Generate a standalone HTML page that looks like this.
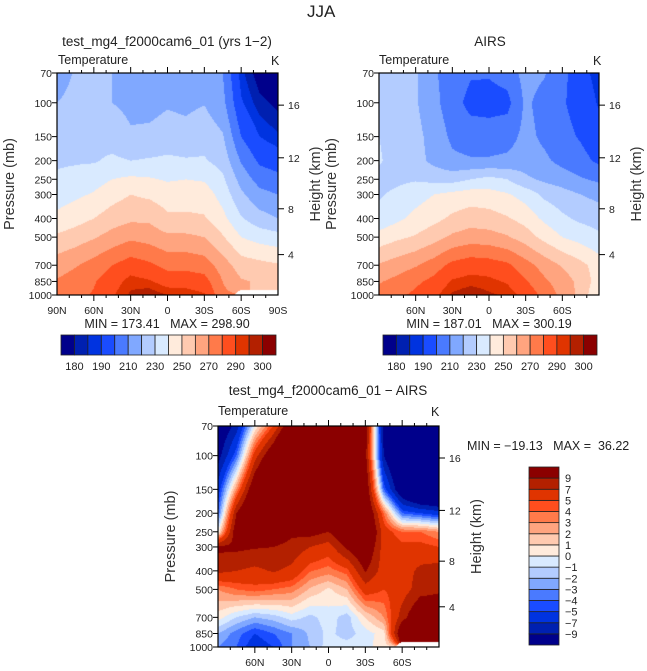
<!DOCTYPE html>
<html><head><meta charset="utf-8">
<style>
html,body{margin:0;padding:0;background:#fff;}
#root{position:relative;width:647px;height:671px;overflow:hidden;font-family:"Liberation Sans",sans-serif;color:#222;}
.t{position:absolute;white-space:nowrap;line-height:1;}
canvas{position:absolute;}
svg{position:absolute;left:0;top:0;}
</style></head>
<body>
<div id="root">
<div class="t" style="left:307px;top:3px;font-size:17px;">JJA</div>

<div class="t" style="left:167px;top:35px;font-size:13.5px;transform:translateX(-50%);">test_mg4_f2000cam6_01 (yrs 1−2)</div>
<div class="t" style="left:58px;top:54px;font-size:12.5px;">Temperature</div>
<div class="t" style="left:271px;top:55px;font-size:12.5px;">K</div>
<div class="t" style="left:167px;top:318px;font-size:12.5px;transform:translateX(-50%);">MIN = 173.41&nbsp;&nbsp;&nbsp;MAX = 298.90</div>

<div class="t" style="left:490px;top:35px;font-size:13.5px;transform:translateX(-50%);">AIRS</div>
<div class="t" style="left:379px;top:54px;font-size:12.5px;">Temperature</div>
<div class="t" style="left:593px;top:55px;font-size:12.5px;">K</div>
<div class="t" style="left:489px;top:318px;font-size:12.5px;transform:translateX(-50%);">MIN = 187.01&nbsp;&nbsp;&nbsp;MAX = 300.19</div>

<div class="t" style="left:328px;top:384px;font-size:13.5px;transform:translateX(-50%);">test_mg4_f2000cam6_01 − AIRS</div>
<div class="t" style="left:218px;top:405px;font-size:12.5px;">Temperature</div>
<div class="t" style="left:431px;top:406px;font-size:12.5px;">K</div>
<div class="t" style="left:467px;top:440px;font-size:12.5px;">MIN = −19.13&nbsp;&nbsp;&nbsp;MAX =&nbsp;&nbsp;36.22</div>

<canvas id="c0" width="221" height="222" style="left:57px;top:73px;"></canvas>
<canvas id="c1" width="220" height="222" style="left:379px;top:73px;"></canvas>
<canvas id="c2" width="221" height="221" style="left:218px;top:426px;"></canvas>
<svg id="ov" width="647" height="671"></svg>
</div>
<script>
// ---------- data ----------
const lats = [90,75,60,45,30,15,0,-15,-30,-45,-60,-75,-90];
const plevs = [1000,850,700,500,400,300,250,200,150,100,70];
// model temperature (K), rows follow plevs
const modelT = [
 [274,277,281,289,296,299,295,294,291,272,null,null,null],
 [271,275,279,286,293,291,286,286,284,270,261,259,256],
 [265,269,274,280,285,282,277,277,275,265,255,253,251],
 [252,255,259,264,268,266,262,262,260,251,240,236,234],
 [242,246,250,255,258,258,252,252,251,243,231,224,220],
 [236,238,241,246,250,248,245,245,245,236,222,213,210],
 [231,233,236,240,242,241,239,240,239,232,216,206,203],
 [229,229,229,232,230,231,232,231,231,226,209,198,195],
 [225,226,227,225,221,222,224,223,226,221,200,190,186],
 [220,223,224,220,218,217,219,218,219.5,213,191,182,178],
 [215,221,222,220,217,214,215,214,217,210,187,176,172]
];
// AIRS temperature (K)
const obsT = [
 [274,278,282,288,296,299,296,294,287,277,267,257,240],
 [269,273,278,283,291,293,292,289,281,272,265,257,245],
 [261,265,269,275,283,286,285,282,274,266,259,253,245],
 [244,248,251,256,262,265,264,261,255,247,240,236,232],
 [233,238,243,247,252,255,254,251,246,238,232,228,226],
 [229,232,236,240,243,245,244,241,236,228,224,220,217],
 [227,228,229,227,226,230,233,230,222,218,215,211,208],
 [231,226,224,217,212,211,211,212,215,212,207,203,198],
 [230,226,223,216,208,205,205,206,213,208,203,199,194],
 [226,224,221,213,204,197,196,197,212,206,201,196,189],
 [224,223,221,211,206,201,201,204,214,211,203,193,187]
];
// difference (K)
const diffT = [
 [-3,-4,-6,-5,-3,-2,-0.5,-0.5,-0.3,0.5,null,null,null],
 [-2,-3.5,-5,-4,-3,-1.8,-0.7,-1.5,-0.5,0.5,12,15,14],
 [0.5,-1,-2,-1.5,-0.5,-1.3,-0.5,-1.5,1,3,8,12,12],
 [3,4,4.5,4,3.5,1.8,0.8,2,6,5,6,8,8.5],
 [7.5,7,6.5,7.2,6.5,4.1,3.5,4.5,9.2,6,6,7.5,8],
 [9.5,9.5,9.2,9,8.3,7,6,9.5,12,6,5.5,5.5,5],
 [0,11,12,11,9.5,10,9,12,14,6,4,4,3],
 [-4,9,15,15,15,14,15,16,13,4,-4,-5,-6],
 [-6,3,12,18,20,20,20,20,12,-4,-12,-16,-17],
 [-10,-4,6,12,20,25,25,22,10,-9,-15,-18,-19],
 [-12,-8,0,5,12,20,25,20,11,-10,-15,-18,-19]
];
const tempLevels = [180,185,190,200,210,220,230,240,250,260,270,280,290,295,300];
const tempLabels = ["180","190","210","230","250","270","290","300"];
const diffLevels = [-9,-7,-5,-4,-3,-2,-1,0,1,2,3,4,5,7,9];
const diffLabels = ["9","7","5","4","3","2","1","0","−1","−2","−3","−4","−5","−7","−9"];
const palette = ["#00008b","#0020b0","#0033e0","#1a4cff","#4a7aff","#80a8ff","#b3ccff","#d9eaff","#ffebdc","#ffcab0","#ffa47f","#ff7a4a","#ff4e1e","#e03400","#b32000","#8b0000"];
const pTicks = [1000,850,700,500,400,300,250,200,150,100,70];
const zTicks = [4,8,12,16];
const latTicksFull = [90,60,30,0,-30,-60,-90];
const latTicksInner = [60,30,0,-30,-60];

// ---------- helpers ----------
const PTOP=70,PBOT=1000, LR=Math.log10(PBOT/PTOP);
function rgb(h){return [parseInt(h.slice(1,3),16),parseInt(h.slice(3,5),16),parseInt(h.slice(5,7),16)];}
const palRGB = palette.map(rgb);
function binOf(v,lv){let i=0;while(i<lv.length&&v>=lv[i])i++;return i;}
function sample(grid,lat,lp){
  let fx=(90-lat)/15; let i0=Math.min(Math.floor(fx),lats.length-2); let tx=fx-i0;
  const lps=plevs.map(p=>Math.log10(p));
  let j0=0; while(j0<plevs.length-2 && lp<lps[j0+1]) j0++;
  let ty=(lps[j0]-lp)/(lps[j0]-lps[j0+1]);
  ty=Math.max(0,Math.min(1,ty));
  const c=[[grid[j0][i0],(1-tx)*(1-ty)],[grid[j0][i0+1],tx*(1-ty)],[grid[j0+1][i0],(1-tx)*ty],[grid[j0+1][i0+1],tx*ty]];
  let s=0,w=0,nw=0;
  for(const [v,wt] of c){ if(v===null){nw+=wt;} else {s+=v*wt;w+=wt;} }
  if(nw>0.62||w===0) return null;
  return s/w;
}
function drawField(id,grid,lv){
  const cv=document.getElementById(id),ctx=cv.getContext('2d');
  const W=cv.width,H=cv.height,img=ctx.createImageData(W,H);
  for(let y=0;y<H;y++){
    const lp=Math.log10(PBOT)-(H-0.5-y)/H*LR;
    for(let x=0;x<W;x++){
      const lat=90-(x+0.5)/W*180;
      const v=sample(grid,lat,lp);
      const k=(y*W+x)*4;
      let c=[255,255,255];
      if(v!==null) c=palRGB[binOf(v,lv)];
      img.data[k]=c[0];img.data[k+1]=c[1];img.data[k+2]=c[2];img.data[k+3]=255;
    }
  }
  ctx.putImageData(img,0,0);
}
drawField('c0',modelT,tempLevels);
drawField('c1',obsT,tempLevels);
drawField('c2',diffT,diffLevels);

// ---------- axes ----------
const NS='http://www.w3.org/2000/svg', ov=document.getElementById('ov');
function el(tag,at,parent){const e=document.createElementNS(NS,tag);for(const k in at)e.setAttribute(k,at[k]);(parent||ov).appendChild(e);return e;}
function zToP(z){const m=z*1000; if(m<=11000) return 1013.25*Math.pow(1-2.25577e-5*m,5.2559); return 226.32*Math.exp(-(m-11000)/6341.6);}
function latLabel(l){return l===0?"0":(Math.abs(l)+(l>0?"N":"S"));}
function axes(name,x0,y0,w,h,latTicks){
  const g=el('g',{});
  
  
  const py=p=>y0+h-Math.log10(PBOT/p)/LR*h;
  const lx=l=>x0+(90-l)/180*w;
  el('rect',{x:x0,y:y0,width:w,height:h,fill:'none',stroke:'#000','stroke-width':1.2},g);
  for(let l=80;l>=-80;l-=10){
    const major=(l%30===0);
    const x=lx(l), len=major?6:3;
    el('line',{x1:x,y1:y0+h,x2:x,y2:y0+h+len,stroke:'#000','stroke-width':1},g);
    el('line',{x1:x,y1:y0,x2:x,y2:y0-len,stroke:'#000','stroke-width':1},g);
  }
  latTicks.forEach(l=>{
    const t=el('text',{x:lx(l),y:y0+h+19,'font-size':10.5,'text-anchor':'middle','font-family':'Liberation Sans, sans-serif',fill:'#222'},g);
    
    
    t.textContent=latLabel(l);
  });
  pTicks.forEach(p=>{
    const y=py(p);
    el('line',{x1:x0-5,y1:y,x2:x0,y2:y,stroke:'#000','stroke-width':1},g);
    const t=el('text',{x:x0-5,y:y+4,'font-size':10.5,'text-anchor':'end','font-family':'Liberation Sans, sans-serif',fill:'#222'},g);
    
    
    t.textContent=p;
  });
  zTicks.forEach(z=>{
    const y=py(zToP(z));
    el('line',{x1:x0+w,y1:y,x2:x0+w+6,y2:y,stroke:'#000','stroke-width':1},g);
    const t=el('text',{x:x0+w+10,y:y+4,'font-size':10.5,'font-family':'Liberation Sans, sans-serif',fill:'#222'},g);
    
    
    t.textContent=z;
  });
  const yc=y0+h/2;
  const a=el('text',{x:0,y:0,'font-size':14.5,'text-anchor':'middle','font-family':'Liberation Sans, sans-serif',fill:'#333',transform:`translate(${x0-43},${yc}) rotate(-90)`},g);
  
  
  a.textContent='Pressure (mb)';
  const b=el('text',{x:0,y:0,'font-size':14.5,'text-anchor':'middle','font-family':'Liberation Sans, sans-serif',fill:'#333',transform:`translate(${x0+w+42},${yc}) rotate(-90)`},g);
  
  
  b.textContent='Height (km)';
}
axes('model',57,73,221,222,latTicksFull);
axes('obs',379,73,220,222,latTicksInner);
axes('diff',218,426,221,221,latTicksInner);

function hbar(name,x0,y0,w,h){
  const g=el('g',{});
  
  
  const n=palette.length,bw=w/n;
  palette.forEach((c,i)=>{
    const r=el('rect',{x:x0+i*bw,y:y0,width:bw,height:h,fill:c,stroke:'#222','stroke-width':0.8},g);
    
    
  });
  tempLabels.forEach((s,k)=>{
    const i=1+2*k;
    const t=el('text',{x:x0+i*bw,y:y0+h+15,'font-size':11,'text-anchor':'middle','font-family':'Liberation Sans, sans-serif',fill:'#222'},g);
    
    
    t.textContent=s;
  });
}
hbar('model-colorbar',61,335,215,20);
hbar('obs-colorbar',383,335,214,20);

(function vbar(){
  const x0=529,y0=467,w=30,h=178,n=palette.length,bh=h/n;
  const g=el('g',{});
  
  
  palette.forEach((c,i)=>{
    const r=el('rect',{x:x0,y:y0+h-(i+1)*bh,width:w,height:bh,fill:c,stroke:'#222','stroke-width':0.8},g);
    
    
  });
  diffLabels.forEach((s,k)=>{
    const t=el('text',{x:x0+w+6,y:y0+(k+1)*bh+4,'font-size':11,'font-family':'Liberation Sans, sans-serif',fill:'#222'},g);
    
    
    t.textContent=s;
  });
})();
</script>
</body></html>
